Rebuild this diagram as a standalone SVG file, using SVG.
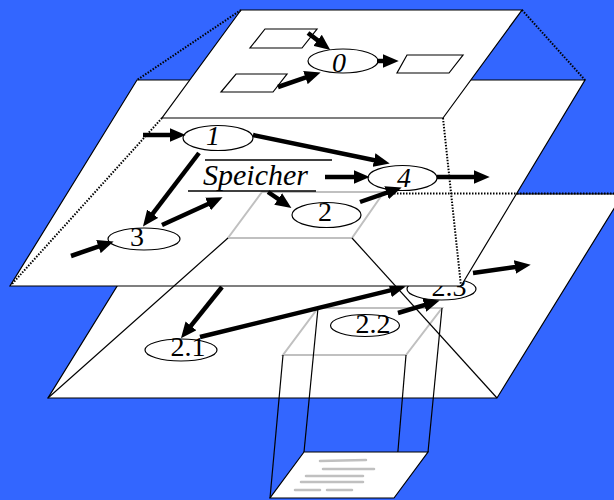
<svg xmlns="http://www.w3.org/2000/svg" width="614" height="500" viewBox="0 0 614 500">
  <style>
    .plane { fill: #ffffff; stroke: #000000; stroke-width: 1.2; stroke-linejoin: miter; }
    .store { fill: none; stroke: #c0c0c0; stroke-width: 2; }
    .proc { fill: #ffffff; stroke: #000000; stroke-width: 1.2; }
    .box { fill: #ffffff; stroke: #000000; stroke-width: 1.2; }
    .flow { stroke: #000000; stroke-width: 4.5; fill: none; marker-end: url(#head); }
    .proj { stroke: #000000; stroke-width: 1.2; fill: none; }
    .hidden { stroke: #000000; stroke-width: 2; stroke-dasharray: 1.5 1.5; fill: none; }
    .lbl { font-family: "Liberation Serif", "Times New Roman", serif; font-size: 28px; fill: #000000; text-anchor: middle; }
    .it { font-style: italic; }
    .txt { stroke: #c0c0c0; stroke-width: 2.5; stroke-linecap: round; }
  </style>
  <defs>
    <marker id="head" markerUnits="userSpaceOnUse" markerWidth="16" markerHeight="14" viewBox="0 0 15 13" refX="4" refY="6.5" orient="auto">
      <path d="M0,0 L15,6.5 L0,13 Z" fill="#000000"/>
    </marker>
  </defs>

  <!-- backdrop -->
  <rect x="0" y="0" width="614" height="500" fill="#3366ff"/>

  <!-- level 2: refined view of process 2 -->
  <g id="level2">
    <polygon class="plane" points="174,194 623,194 497,398 48,398"/>
    <polygon id="store-2" class="store" points="318,308 442,308 406,355 283,355"/>
    <g id="node-2-1">
      <ellipse class="proc" cx="181" cy="350" rx="36" ry="11"/>
      <text class="lbl" x="188" y="356">2.1</text>
    </g>
    <g id="node-2-2">
      <ellipse class="proc" cx="365" cy="325.5" rx="34.5" ry="11"/>
      <text class="lbl" x="373" y="333">2.2</text>
    </g>
    <g id="node-2-3">
      <ellipse class="proc" cx="441.5" cy="289" rx="34.5" ry="11"/>
      <text class="lbl" x="449" y="296">2.3</text>
    </g>
    <g id="connectors-level2">
      <line class="flow" x1="222" y1="287" x2="188.3" y2="329.2"/>
      <line class="flow" x1="200" y1="337" x2="394.3" y2="289.4"/>
      <line class="flow" x1="398" y1="313" x2="428.4" y2="303.9"/>
      <line class="flow" x1="473" y1="273" x2="519.1" y2="266.4"/>
    </g>
  </g>

  <!-- level 1: system view -->
  <g id="level1">
    <polygon class="plane" points="137,80 585,80 461,286 10,286"/>
    <polygon id="store-1" class="store" points="262,192 384,192 352,238 228,238"/>
    <g id="node-speicher">
      <line x1="205" y1="160" x2="332" y2="160" stroke="#000000" stroke-width="1.5"/>
      <line x1="188" y1="191" x2="316" y2="191" stroke="#000000" stroke-width="1.5"/>
      <text x="203" y="185" font-family="'Liberation Serif', 'Times New Roman', serif" font-size="30" font-style="italic" fill="#000000">Speicher</text>
    </g>
    <g id="node-1">
      <ellipse class="proc" cx="218" cy="138" rx="35" ry="12.5"/>
      <text class="lbl it" x="213" y="145">1</text>
    </g>
    <g id="node-2">
      <ellipse class="proc" cx="326.5" cy="215" rx="34.5" ry="12.5"/>
      <text class="lbl" x="325" y="221">2</text>
    </g>
    <g id="node-3">
      <ellipse class="proc" cx="144" cy="239" rx="36" ry="11"/>
      <text class="lbl" x="137" y="246">3</text>
    </g>
    <g id="node-4">
      <ellipse class="proc" cx="402.5" cy="178" rx="34.5" ry="12.5"/>
      <text class="lbl it" x="404" y="187">4</text>
    </g>
    <g id="connectors-level1">
      <line class="flow" x1="143" y1="135" x2="174" y2="135"/>
      <line class="flow" x1="253" y1="135" x2="378.2" y2="161"/>
      <line class="flow" x1="199" y1="153" x2="150.1" y2="217.1"/>
      <line class="flow" x1="162" y1="225" x2="211.9" y2="202.2"/>
      <line class="flow" x1="71" y1="256" x2="102.5" y2="245.2"/>
      <line class="flow" x1="268" y1="192" x2="281.7" y2="201.4"/>
      <line class="flow" x1="325" y1="177" x2="358" y2="177"/>
      <line class="flow" x1="437" y1="177" x2="478" y2="177"/>
      <line class="flow" x1="360" y1="202" x2="390.6" y2="191.3"/>
    </g>
  </g>

  <!-- level 0: context view -->
  <g id="level0">
    <polygon class="plane" points="241,10 522,10 443,118 162,118"/>
    <polygon id="term-a" class="box" points="265,29 317,29 302,48 250,48"/>
    <polygon id="term-b" class="box" points="236,74 287,74 273,92 221,92"/>
    <polygon id="term-c" class="box" points="407,55 463,55 449,73 397,73"/>
    <g id="node-0">
      <ellipse class="proc" cx="343" cy="61" rx="35" ry="12"/>
      <text class="lbl it" x="339" y="72">0</text>
    </g>
    <g id="connectors-level0">
      <line class="flow" x1="308" y1="33" x2="321" y2="42.9"/>
      <line class="flow" x1="278" y1="87" x2="309.5" y2="76.2"/>
      <line class="flow" x1="377" y1="61" x2="387" y2="61"/>
    </g>
  </g>

  <!-- projection lines between levels -->
  <g id="projections">
    <line class="hidden" x1="241" y1="10" x2="137" y2="80"/>
    <line class="hidden" x1="522" y1="10" x2="585" y2="80"/>
    <line class="hidden" x1="162" y1="118" x2="12" y2="284"/>
    <line class="hidden" x1="443" y1="118" x2="461" y2="286"/>
    <line class="hidden" x1="385" y1="193.5" x2="614" y2="193.5"/>
    <line class="proj" x1="228" y1="238" x2="48" y2="398"/>
    <line class="proj" x1="352" y1="238" x2="497" y2="398"/>
    <line class="proj" x1="318" y1="308" x2="304" y2="452"/>
    <line class="proj" x1="442" y1="308" x2="428" y2="452"/>
    <line class="proj" x1="283" y1="355" x2="270" y2="498"/>
    <line class="proj" x1="406" y1="355" x2="394" y2="498"/>
  </g>

  <!-- data sheet -->
  <g id="sheet">
    <polygon class="plane" points="304,452 428,452 394,498 270,498"/>
    <line class="txt" x1="320" y1="461" x2="366" y2="460"/>
    <line class="txt" x1="323" y1="469" x2="374" y2="469"/>
    <line class="txt" x1="306" y1="476" x2="363" y2="476"/>
    <line class="txt" x1="301" y1="482" x2="363" y2="482"/>
    <line class="txt" x1="295" y1="490" x2="320" y2="490"/>
    <line class="txt" x1="327" y1="490" x2="352" y2="490"/>
  </g>
</svg>
